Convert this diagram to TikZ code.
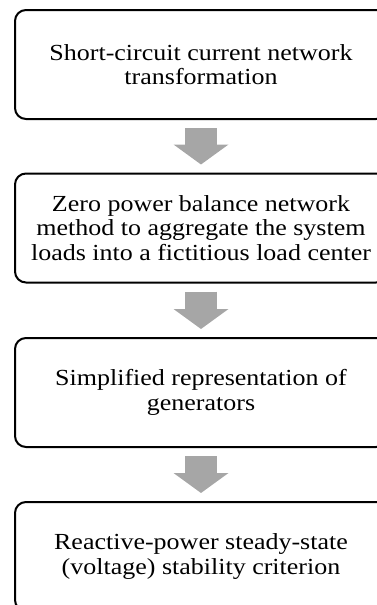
\documentclass[tikz,border=0pt]{standalone}
\usepackage{fontspec}
\setmainfont[FakeStretch=1.13]{Liberation Serif}
\usetikzlibrary{arrows.meta}
\definecolor{arrgray}{HTML}{A6A6A6}
\begin{document}
\begin{tikzpicture}[x=1pt,y=-1pt,
  stepbox/.style={draw=black, line width=2pt, rounded corners=11pt,
    minimum width=372pt, minimum height=109pt, inner sep=0pt},
  steptext/.style={align=center, font=\fontsize{23}{24.5}\selectfont, inner sep=0pt},
  flowarrow/.style={draw=arrgray, line width=32pt,
    -{Triangle[width=54pt,length=20pt]}, shorten <=8pt, shorten >=8pt}]
\useasboundingbox (0,0) rectangle (377,605);
\node[stepbox] (b1) at (201,64.5) {};
\node[stepbox] (b2) at (201,228) {};
\node[stepbox] (b3) at (201,392.5) {};
\node[stepbox] (b4) at (201,556.5) {};
\node[steptext] (t1) at (b1.center) {Short-circuit current network\\transformation};
\node[steptext] (t2) at (b2.center) {Zero power balance network\\method to aggregate the system\\loads into a fictitious load center};
\node[steptext] (t3) at (b3.center) {Simplified representation of\\generators};
\node[steptext] (t4) at (b4.center) {Reactive-power steady-state\\(voltage) stability criterion};
\draw[flowarrow] (b1.south) -- (b2.north);
\draw[flowarrow] (b2.south) -- (b3.north);
\draw[flowarrow] (b3.south) -- (b4.north);
\end{tikzpicture}
\end{document}
